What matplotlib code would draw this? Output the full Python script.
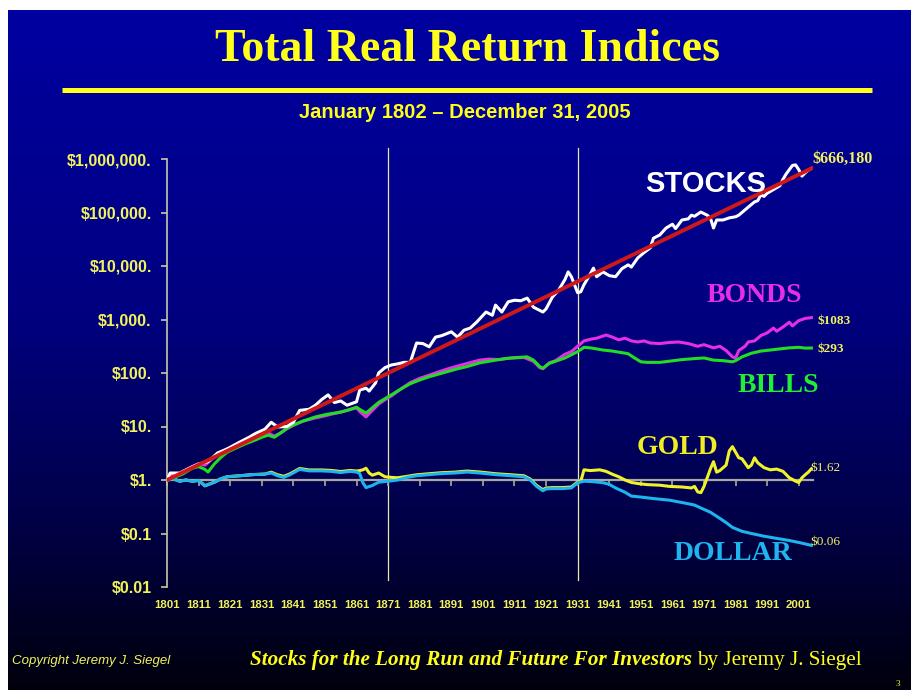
import numpy as np
import matplotlib
matplotlib.use("Agg")
import matplotlib.pyplot as plt
from matplotlib.lines import Line2D
from matplotlib.colors import LinearSegmentedColormap
import matplotlib.transforms as mtransforms

# ---------------- data ----------------
stocks_years = [1801, 1802, 1805, 1808, 1811, 1814, 1817, 1820, 1824, 1827, 1829, 1832, 1834,
                1836, 1839, 1841, 1843, 1846, 1848, 1850, 1852, 1854, 1856, 1858, 1861, 1862,
                1864, 1865, 1867, 1868, 1870, 1872, 1874, 1876, 1878, 1880, 1882, 1884, 1886,
                1888, 1891, 1893, 1895, 1897, 1899, 1902, 1904, 1905, 1907, 1909, 1911, 1913,
                1915, 1917, 1920, 1921, 1923, 1925, 1927, 1928, 1929, 1931, 1932, 1933, 1935,
                1936, 1937, 1939, 1941, 1943, 1945, 1947, 1948, 1950, 1952, 1954, 1955, 1957,
                1959, 1961, 1962, 1964, 1966, 1967, 1968, 1970, 1972, 1973, 1974, 1975, 1977,
                1979, 1981, 1982, 1985, 1987, 1988, 1989, 1990, 1991, 1993, 1995, 1996, 1997,
                1998, 1999, 2000, 2001, 2002, 2003, 2004, 2005]
stocks_values = [1.0, 1.35, 1.35, 1.66, 2.0, 2.2, 3.2, 3.8, 5.1, 6.3, 7.4, 8.9, 12.0,
                 9.8, 10.0, 12.0, 20.0, 21.0, 25.0, 32.0, 39.0, 28.0, 30.0, 25.0, 29.0, 48.0,
                 52.0, 46.0, 65.0, 100.0, 126.0, 141.0, 148.0, 158.0, 158.0, 363.0, 355.0, 309.0, 468.0,
                 500.0, 589.0, 468.0, 631.0, 692.0, 891.0, 1380.0, 1200.0, 1860.0, 1380.0, 2140.0, 2290.0, 2240.0,
                 2510.0, 1700.0, 1380.0, 1580.0, 2630.0, 3550.0, 5620.0, 7760.0, 6310.0, 3160.0, 3310.0, 4470.0, 7080.0,
                 9120.0, 6310.0, 7760.0, 6610.0, 6310.0, 8910.0, 10500.0, 9550.0, 14100.0, 17800.0, 21900.0, 33100.0, 38000.0,
                 51300.0, 60300.0, 50100.0, 72400.0, 75900.0, 89100.0, 85100.0, 102000.0, 89100.0, 79400.0, 51300.0, 72400.0, 72400.0,
                 79400.0, 83200.0, 89100.0, 126000.0, 158000.0, 166000.0, 214000.0, 200000.0, 229000.0, 269000.0, 316000.0, 417000.0, 525000.0,
                 631000.0, 759000.0, 776000.0, 631000.0, 479000.0, 550000.0, 617000.0, 666180.0]

trend_years = [1801, 2005]
trend_values = [1.0, 666180.0]

bonds_years = [1801, 1802, 1804, 1806, 1809, 1811, 1813, 1815, 1818, 1820, 1823, 1826, 1829, 1831,
               1833, 1835, 1837, 1839, 1841, 1844, 1846, 1848, 1851, 1853, 1856, 1858, 1861, 1862,
               1864, 1866, 1868, 1870, 1872, 1875, 1878, 1881, 1884, 1887, 1890, 1893, 1896, 1900,
               1903, 1906, 1910, 1914, 1917, 1919, 1920, 1922, 1924, 1927, 1929, 1931, 1933, 1935,
               1937, 1940, 1942, 1944, 1946, 1948, 1950, 1952, 1954, 1957, 1960, 1963, 1966, 1969,
               1971, 1974, 1976, 1978, 1980, 1981, 1982, 1984, 1985, 1987, 1989, 1991, 1993, 1994,
               1996, 1998, 1999, 2001, 2003, 2005]
bonds_values = [1.0, 1.26, 1.2, 1.32, 1.78, 2.0, 1.9, 2.4, 3.16, 3.8, 4.47, 5.25, 6.3, 7.1,
                7.6, 6.6, 7.6, 9.1, 10.5, 12.6, 13.5, 14.5, 15.8, 17.0, 18.6, 20.0, 22.4, 19.1,
                15.1, 20.0, 26.3, 31.6, 37.2, 50.1, 66.1, 79.4, 91.2, 105.0, 120.0, 135.0, 151.0, 174.0,
                182.0, 178.0, 191.0, 195.0, 166.0, 126.0, 120.0, 155.0, 170.0, 224.0, 251.0, 316.0, 398.0, 427.0,
                447.0, 513.0, 468.0, 417.0, 447.0, 398.0, 380.0, 398.0, 363.0, 355.0, 372.0, 380.0, 355.0, 316.0,
                339.0, 295.0, 316.0, 263.0, 200.0, 191.0, 263.0, 316.0, 380.0, 398.0, 501.0, 562.0, 692.0, 603.0,
                724.0, 891.0, 759.0, 955.0, 1047.0, 1083.0]

bills_years = [1801, 1803, 1806, 1809, 1811, 1813, 1814, 1816, 1818, 1820, 1823, 1826, 1829, 1831,
               1833, 1835, 1837, 1839, 1841, 1844, 1846, 1848, 1851, 1853, 1856, 1858, 1861, 1862,
               1864, 1866, 1868, 1870, 1872, 1875, 1878, 1881, 1884, 1887, 1890, 1893, 1896, 1900,
               1904, 1908, 1912, 1915, 1917, 1919, 1920, 1922, 1924, 1927, 1929, 1931, 1933, 1935,
               1937, 1939, 1942, 1945, 1947, 1949, 1951, 1953, 1957, 1960, 1964, 1968, 1971, 1974,
               1977, 1980, 1981, 1983, 1986, 1989, 1992, 1995, 1998, 2001, 2003, 2005]
bills_values = [1.0, 1.1, 1.3, 1.66, 1.78, 1.58, 1.41, 2.0, 2.63, 3.3, 4.0, 4.8, 5.6, 6.3,
                6.9, 6.3, 7.6, 9.3, 10.7, 12.6, 13.8, 15.1, 16.6, 17.4, 18.6, 20.0, 22.9, 20.9,
                17.8, 22.4, 28.2, 33.1, 38.9, 50.1, 63.1, 74.1, 85.1, 95.5, 107.0, 120.0, 132.0, 155.0,
                170.0, 186.0, 195.0, 200.0, 174.0, 132.0, 123.0, 151.0, 166.0, 191.0, 219.0, 251.0, 302.0, 295.0,
                282.0, 269.0, 257.0, 240.0, 229.0, 191.0, 162.0, 158.0, 158.0, 166.0, 178.0, 186.0, 191.0, 174.0,
                170.0, 162.0, 170.0, 200.0, 234.0, 257.0, 269.0, 282.0, 295.0, 302.0, 292.0, 293.0]

gold_years = [1801, 1803, 1805, 1807, 1809, 1811, 1813, 1816, 1818, 1820, 1824, 1828, 1832, 1834,
              1836, 1838, 1840, 1843, 1846, 1850, 1853, 1856, 1859, 1861, 1862, 1863, 1864, 1865,
              1866, 1868, 1870, 1872, 1874, 1877, 1880, 1884, 1888, 1892, 1896, 1900, 1905, 1910,
              1914, 1916, 1918, 1920, 1921, 1923, 1926, 1929, 1931, 1932, 1933, 1935, 1938, 1940,
              1942, 1944, 1946, 1948, 1950, 1953, 1957, 1960, 1964, 1967, 1968, 1969, 1970, 1971,
              1972, 1973, 1974, 1975, 1976, 1978, 1979, 1980, 1981, 1982, 1983, 1985, 1986, 1987,
              1988, 1990, 1992, 1994, 1996, 1998, 2000, 2001, 2002, 2003, 2004, 2005]
gold_values = [1.0, 1.05, 0.95, 1.0, 0.95, 0.98, 0.78, 0.91, 1.05, 1.15, 1.2, 1.26, 1.29, 1.4,
               1.25, 1.17, 1.31, 1.64, 1.54, 1.54, 1.51, 1.44, 1.51, 1.47, 1.5, 1.55, 1.66, 1.35,
               1.23, 1.35, 1.15, 1.12, 1.1, 1.17, 1.25, 1.31, 1.37, 1.4, 1.47, 1.41, 1.31, 1.25,
               1.2, 1.04, 0.79, 0.66, 0.71, 0.72, 0.72, 0.74, 0.92, 0.95, 1.55, 1.5, 1.55, 1.45,
               1.28, 1.15, 1.0, 0.9, 0.86, 0.82, 0.8, 0.76, 0.74, 0.71, 0.76, 0.6, 0.58, 0.76,
               1.1, 1.6, 2.2, 1.4, 1.5, 1.9, 3.5, 4.2, 3.3, 2.6, 2.5, 1.7, 1.9, 2.6,
               2.1, 1.7, 1.55, 1.6, 1.45, 1.1, 0.95, 0.9, 1.1, 1.25, 1.4, 1.62]

dollar_years = [1801, 1803, 1805, 1807, 1809, 1811, 1813, 1816, 1818, 1820, 1824, 1828, 1832, 1834,
                1836, 1838, 1840, 1843, 1846, 1850, 1853, 1856, 1859, 1861, 1862, 1863, 1864, 1866,
                1868, 1871, 1874, 1877, 1880, 1884, 1888, 1892, 1896, 1900, 1905, 1910, 1914, 1916,
                1918, 1920, 1921, 1923, 1926, 1929, 1931, 1933, 1936, 1939, 1941, 1943, 1946, 1948,
                1951, 1955, 1960, 1965, 1968, 1970, 1973, 1975, 1978, 1980, 1983, 1986, 1990, 1994,
                1998, 2001, 2005]
dollar_values = [1.0, 1.05, 0.95, 1.0, 0.95, 0.98, 0.78, 0.91, 1.05, 1.15, 1.2, 1.26, 1.29, 1.35,
                 1.2, 1.12, 1.26, 1.58, 1.48, 1.48, 1.45, 1.38, 1.45, 1.41, 1.32, 0.89, 0.72, 0.79,
                 0.91, 0.95, 1.0, 1.12, 1.2, 1.26, 1.32, 1.35, 1.41, 1.35, 1.26, 1.2, 1.15, 1.0,
                 0.76, 0.63, 0.68, 0.69, 0.69, 0.71, 0.89, 0.95, 0.93, 0.89, 0.83, 0.71, 0.59, 0.5,
                 0.48, 0.45, 0.42, 0.37, 0.34, 0.30, 0.25, 0.21, 0.16, 0.13, 0.11, 0.10, 0.089, 0.081,
                 0.074, 0.068, 0.06]

ytick_values = [0.01, 0.1, 1, 10, 100, 1000, 10000, 100000, 1000000]
ytick_labels = ["$0.01", "$0.1", "$1.", "$10.", "$100.", "$1,000.", "$10,000.",
                "$100,000.", "$1,000,000."]
xtick_years = list(range(1801, 2002, 10))
ref_years = [1871, 1931]

# ---------------- figure ----------------
W, H = 911, 690
fig = plt.figure(figsize=(W / 100, H / 100), dpi=100, facecolor="white")

def fx(px):
    return px / W

def fy(py):
    return 1 - py / H

# background gradient (slide)
bg = fig.add_axes([fx(8), 0, 1 - fx(8), 1 - 10 / H], zorder=0)
bg.axis("off")
grad = np.linspace(0, 1, 512).reshape(-1, 1)
cmap = LinearSegmentedColormap.from_list(
    "slide", [(0.0, (0.0, 0.0, 0.63)), (0.45, (0.0, 0.0, 0.50)),
              (0.75, (0.0, 0.0, 0.28)), (1.0, (0.0, 0.0, 0.05))])
bg.imshow(grad, aspect="auto", cmap=cmap, extent=[0, 1, 0, 1], origin="upper")
bg.set_xlim(0, 1)
bg.set_ylim(0, 1)

YELLOW = "#ffff1a"
TICKY = "#f2f25a"

# title, rule, subtitle
fig.text(fx(467), fy(50), "Total Real Return Indices", ha="center", va="center",
         color=YELLOW, fontsize=33, fontweight="bold", family="Liberation Serif")
fig.add_artist(Line2D([fx(62), fx(872)], [fy(90), fy(90)], color=YELLOW, lw=3.6,
                      solid_capstyle="butt"))
fig.text(fx(465), fy(113), "January 1802 \u2013 December 31, 2005", ha="center", va="center",
         color=YELLOW, fontsize=14.5, fontweight="bold", family="Liberation Sans")

# main axes
ax = fig.add_axes([fx(167), 103 / H, 646 / W, 428 / H], zorder=2)
ax.set_facecolor("none")
ax.set_yscale("log")
ax.set_ylim(0.01, 1e6)
ax.set_xlim(1801, 2005.5)

for s in ["top", "right"]:
    ax.spines[s].set_visible(False)
ax.spines["left"].set_color("#c8c8a8")
ax.spines["left"].set_linewidth(1.2)
ax.spines["bottom"].set_position(("data", 1))
ax.spines["bottom"].set_color("#a8a8a0")
ax.spines["bottom"].set_linewidth(1.6)

ax.set_yticks(ytick_values)
ax.set_yticklabels(ytick_labels)
ax.yaxis.set_minor_locator(matplotlib.ticker.NullLocator())
ax.tick_params(axis="y", colors="#c8c8a8", length=4, width=1.2, pad=7,
               labelcolor=TICKY, labelsize=11.5)
for lab in ax.get_yticklabels():
    lab.set_fontweight("bold")
    lab.set_family("Liberation Sans")

ax.set_xticks(xtick_years)
ax.xaxis.set_minor_locator(matplotlib.ticker.NullLocator())
ax.tick_params(axis="x", colors="#a8a8a0", length=4, width=1.2, labelbottom=False)
trans = mtransforms.blended_transform_factory(ax.transData, ax.transAxes)
for yr in xtick_years:
    ax.text(yr, -0.042, str(yr), transform=trans, ha="center", va="center",
            color=TICKY, fontsize=8.2, fontweight="bold", family="Liberation Sans")

# reference lines
for yr in ref_years:
    ax.axvline(yr, ymin=0.016, ymax=1.026, color="#e8e8a8", lw=0.9, clip_on=False, zorder=1)

lw = 2.2
ax.plot(bonds_years, bonds_values, color="#e62ee6", lw=lw, zorder=3)
ax.plot(bills_years, bills_values, color="#22dd22", lw=lw, zorder=4)
ax.plot(stocks_years, stocks_values, color="white", lw=lw, zorder=5)
ax.plot(trend_years, trend_values, color="#d01818", lw=2.8, zorder=6)
ax.plot(gold_years, gold_values, color="#f2f22a", lw=lw, zorder=3)
ax.plot(dollar_years, dollar_values, color="#1eb4ee", lw=lw, zorder=3.5)

# series labels
fig.text(fx(706), fy(184), "STOCKS", ha="center", va="center", color="white",
         fontsize=21, fontweight="bold", family="Liberation Sans")
fig.text(fx(754), fy(295), "BONDS", ha="center", va="center", color="#e62ee6",
         fontsize=20, fontweight="bold", family="Liberation Serif")
fig.text(fx(778), fy(385), "BILLS", ha="center", va="center", color="#22ee33",
         fontsize=20, fontweight="bold", family="Liberation Serif")
fig.text(fx(677), fy(447), "GOLD", ha="center", va="center", color="#eeee22",
         fontsize=20, fontweight="bold", family="Liberation Serif")
fig.text(fx(733), fy(554), "DOLLAR", ha="center", va="center", color="#1eb4ee",
         fontsize=20, fontweight="bold", family="Liberation Serif")

# end values
fig.text(fx(812), fy(159), "$666,180", ha="left", va="center", color=TICKY,
         fontsize=11.5, fontweight="bold", family="Liberation Serif")
fig.text(fx(818), fy(321), "$1083", ha="left", va="center", color=TICKY,
         fontsize=9.5, fontweight="bold", family="Liberation Serif")
fig.text(fx(817), fy(349), "$293", ha="left", va="center", color=TICKY,
         fontsize=9.5, fontweight="bold", family="Liberation Serif")
fig.text(fx(810), fy(468), "$1.62", ha="left", va="center", color=TICKY,
         fontsize=9.5, family="Liberation Serif")
fig.text(fx(810), fy(542), "$0.06", ha="left", va="center", color=TICKY,
         fontsize=9.5, family="Liberation Serif")

# footer
fig.text(fx(12), fy(661), "Copyright Jeremy J. Siegel", ha="left", va="center", color=TICKY,
         fontsize=9.5, style="italic", family="Liberation Sans")
fig.text(fx(692), fy(660), "Stocks for the Long Run and Future For Investors", ha="right",
         va="center", color=YELLOW, fontsize=15.2, style="italic", fontweight="bold",
         family="Liberation Serif")
fig.text(fx(697), fy(660), "by Jeremy J. Siegel", ha="left", va="center", color=YELLOW,
         fontsize=15.2, family="Liberation Serif")
fig.text(fx(898), fy(684), "3", ha="center", va="center", color=YELLOW, fontsize=6.5,
         family="Liberation Serif")

fig.savefig("out.png", dpi=100, facecolor="white")
